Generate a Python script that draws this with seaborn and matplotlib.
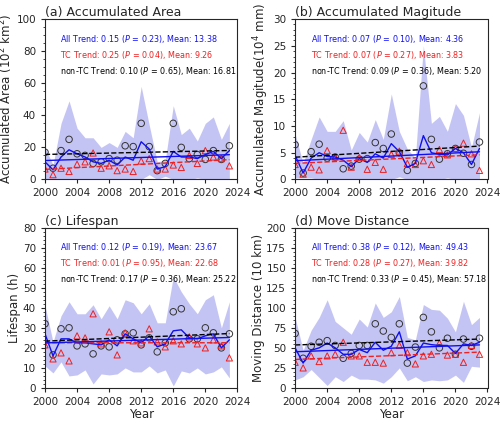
import numpy as np
import pandas as pd
import matplotlib
matplotlib.use("Agg")
import matplotlib.pyplot as plt
import seaborn as sns

sns.set_style("ticks")
plt.rcParams['font.family'] = ['DejaVu Sans']

years = list(range(2000, 2024))

# (a) accumulated area
a_all = [11, 6, 14, 18.5, 16, 14, 11, 10, 12, 9, 14, 12, 23.5, 19, 6.5, 8, 17.5, 14, 14, 13, 15.5, 17.5, 13, 18]
a_non = [17, 7, 18, 25, 16, 15, 10, 11, 13, 12, 21, 20.5, 35, 20.5, 5.5, 10, 35, 20, 13, 15.5, 12.5, 18, 12.5, 21]
a_tc = [6.5, 3, 7, 5, 9.5, 11, 16.5, 7, 8.5, 5.5, 6.5, 5, 11.5, 13, 6.5, 6.5, 9, 7.5, 15, 10, 18, 14, 13, 8.5]
a_up = [20, 9, 35, 49, 32, 26, 26, 20, 23, 20, 30, 26, 58, 34, 11, 12, 46, 28, 32, 24, 35, 39, 25, 35]
a_lo = [0, 0, 0, 0, 0, 0, 0, 0, 0, 0, 0, 0, 0, 3, 0, 2, 0, 0, 0, 1, 0, 0, 0, 0]

# (b) accumulated magnitude
b_all = [4.5, 1.2, 4, 5, 4.3, 4.2, 3.6, 2.4, 3.9, 3.2, 4.8, 4, 6.7, 5.2, 2.3, 3, 8.2, 5, 4.7, 4.6, 5.8, 5, 2.8, 5.8]
b_non = [6.5, 1.2, 5.2, 6.6, 4, 4.2, 2, 2.5, 3.8, 3.9, 6.9, 5.8, 8.5, 5, 1.7, 3, 17.5, 7.5, 3.8, 4.8, 5.8, 4.9, 2.8, 7]
b_tc = [2.8, 1, 2.3, 1.8, 5.4, 4.2, 9.2, 2.3, 4.1, 1.9, 3.2, 1.9, 4.7, 5.3, 3, 2.8, 3.5, 2.8, 5.6, 4.6, 5.8, 6.8, 4.8, 1.7]
b_up = [8.5, 3, 7.5, 11.7, 9, 9, 11, 5.5, 8.8, 7, 11.2, 7.5, 16, 9, 5.7, 4, 25, 10.5, 11.8, 9, 14.2, 12, 6, 12.5]
b_lo = [0.3, 0.3, 0.3, 0, 0, 0, 0, 0, 0, 0, 0, 0, 0, 0.5, 0, 0, 0, 0, 0, 0.3, 0, 0, 0, 0]

# (c) lifespan
c_all = [27, 16, 24.5, 24.5, 22.5, 22.5, 22, 21.5, 24, 21, 27, 24.5, 22.5, 26, 20.5, 22, 28.5, 29, 25, 24.5, 26, 27, 20, 24]
c_non = [32, 16.5, 29.5, 30, 21, 22, 17, 21, 20.5, 24, 27, 27.5, 21.5, 25, 18, 22.5, 38, 39.5, 24.5, 24.5, 30, 27.5, 20, 27]
c_tc = [21.5, 14.5, 17.5, 13.5, 26, 25, 37, 22, 28, 16.5, 27.5, 23.5, 22.5, 29.5, 23, 20.5, 23.5, 22, 25.5, 22, 20, 24, 21, 15]
c_up = [41, 23, 36, 43, 37, 37, 41.5, 34.5, 41, 34.5, 44, 42.5, 37, 42, 32.5, 32.5, 55.5, 48, 42, 37, 44, 46.5, 30, 43]
c_lo = [11, 7.5, 13, 6, 6.5, 9, 2, 7, 6.5, 7, 10, 8, 8, 11, 7.5, 9, 1, 8.5, 7.5, 10, 7, 8, 10.5, 5]

# (d) move distance
d_all = [50, 31, 47, 50, 56, 50, 42, 42, 48, 44, 57, 47, 52, 70, 36, 40, 56, 54, 53, 53, 43, 55, 53, 57]
d_non = [68, 37, 52, 57, 59, 53, 37, 43, 53, 53, 80, 71, 63, 80, 31, 51, 88, 70, 50, 62, 42, 61, 52, 62]
d_tc = [32, 25, 40, 33, 40, 42, 57, 40, 40, 32, 32, 31, 44, 53, 44, 30, 40, 42, 56, 41, 42, 32, 53, 42]
d_up = [88, 47, 72, 88, 110, 83, 75, 67, 86, 76, 106, 88, 95, 114, 63, 60, 104, 98, 97, 87, 70, 108, 79, 88]
d_lo = [10, 14, 23, 13, 3, 14, 8, 16, 11, 11, 10, 6, 14, 25, 9, 14, 8, 10, 9, 10, 16, 7, 27, 26]

panels = [
    ("(a) Accumulated Area", r"Accumulated Area (10$^2$ km$^2$)", a_all, a_non, a_tc, a_up, a_lo, 100, 20,
     ["0.15", "0.23", "13.38"], ["0.25", "0.04", "9.26"], ["0.10", "0.65", "16.81"]),
    ("(b) Accumulated Magitude", r"Accumulated Magitude(10$^4$ mm)", b_all, b_non, b_tc, b_up, b_lo, 30, 5,
     ["0.07", "0.10", "4.36"], ["0.07", "0.27", "3.83"], ["0.09", "0.36", "5.20"]),
    ("(c) Lifespan", "Lifespan (h)", c_all, c_non, c_tc, c_up, c_lo, 80, 10,
     ["0.12", "0.19", "23.67"], ["0.01", "0.95", "22.68"], ["0.17", "0.36", "25.22"]),
    ("(d) Move Distance", "Moving Distance (10 km)", d_all, d_non, d_tc, d_up, d_lo, 200, 25,
     ["0.38", "0.12", "49.43"], ["0.28", "0.27", "39.82"], ["0.33", "0.45", "57.18"]),
]

blue = "#1010ee"
red = "#ee2020"

fig, axes = plt.subplots(2, 2, figsize=(5, 4.24), dpi=100)
for i, (ax, p) in enumerate(zip(axes.flat, panels)):
    title, ylab, s_all, s_non, s_tc, up, lo, ymax, step, t_all, t_tc, t_non = p
    df = pd.DataFrame({"year": years, "all": s_all, "non": s_non, "tc": s_tc})
    ax.fill_between(years, lo, up, color="#c4c4f4", lw=0)
    sns.lineplot(data=df, x="year", y="all", color=blue, lw=1.0, ax=ax)
    # linear trends of each series
    for col, c, ls in [("non", "black", "--"), ("tc", red, "--"), ("all", blue, "-")]:
        k, b = np.polyfit(years, df[col], 1)
        ax.plot([2000, 2023], [k * 2000 + b, k * 2023 + b], color=c, ls=ls, lw=1.0)
    sns.scatterplot(data=df, x="year", y="non", marker="o", s=22, facecolor="none",
                    edgecolor="#333333", linewidth=0.7, ax=ax)
    sns.scatterplot(data=df, x="year", y="tc", marker="^", s=20, facecolor="none",
                    edgecolor=red, linewidth=0.7, ax=ax)
    ax.set_xlim(2000, 2024)
    ax.set_ylim(0, ymax)
    ax.set_xticks(range(2000, 2025, 4))
    ax.set_yticks(np.arange(0, ymax + 0.01, step))
    ax.minorticks_on()
    ax.tick_params(axis="x", which="minor", bottom=False)
    ax.tick_params(labelsize=7.5, length=3, width=0.8)
    ax.tick_params(which="minor", length=1.5)
    ax.set_title(title, loc="left", fontsize=9, pad=2)
    ax.set_ylabel(ylab, fontsize=8.5, labelpad=1)
    ax.set_xlabel("Year" if i >= 2 else "", fontsize=8.5, labelpad=1)
    fs = 5.8
    ax.text(0.08, 0.86, f"All Trend: {t_all[0]} ($P$ = {t_all[1]}), Mean: {t_all[2]}",
            transform=ax.transAxes, color=blue, fontsize=fs)
    ax.text(0.08, 0.76, f"TC Trend: {t_tc[0]} ($P$ = {t_tc[1]}), Mean: {t_tc[2]}",
            transform=ax.transAxes, color=red, fontsize=fs)
    ax.text(0.08, 0.66, f"non-TC Trend: {t_non[0]} ($P$ = {t_non[1]}), Mean: {t_non[2]}",
            transform=ax.transAxes, color="black", fontsize=fs)

fig.subplots_adjust(left=0.09, right=0.975, top=0.955, bottom=0.085, wspace=0.3, hspace=0.3)
fig.savefig("out.png", dpi=100)
